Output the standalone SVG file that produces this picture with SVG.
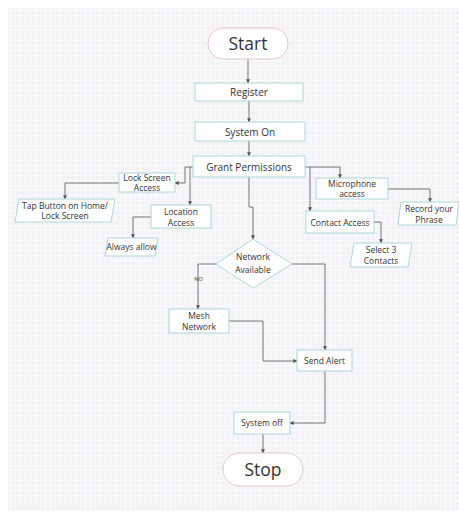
<svg xmlns="http://www.w3.org/2000/svg" width="459" height="511" viewBox="0 0 459 511">
<defs>
<pattern id="grid" width="5" height="5" patternUnits="userSpaceOnUse">
<rect width="5" height="5" fill="#f3f3f5"/>
<path d="M0 0.5H5M0.5 0V5" stroke="#fafafb" stroke-width="1"/>
</pattern>
<marker id="ah" viewBox="0 0 6 6" refX="5.5" refY="3" markerWidth="4" markerHeight="4" markerUnits="userSpaceOnUse" orient="auto">
<path d="M0 0L6 3L0 6z" fill="#555"/>
</marker>
<style>
.box{fill:#ffffff;stroke:#acd8d8;stroke-width:1}
.pill{fill:#ffffff;stroke:#e8c6c6;stroke-width:1}
.t{font-family:"Open Sans","Noto Sans","DejaVu Sans",sans-serif;fill:#333;text-anchor:middle}
.s{font-size:8.5px}
.m{font-size:10px}
.b{font-size:17.5px}
.c{fill:none;stroke:#666;stroke-width:0.9;marker-end:url(#ah)}
</style>
</defs>
<rect x="0" y="0" width="459" height="511" fill="#ffffff"/>
<rect x="8" y="8" width="451" height="503" fill="url(#grid)"/>

<g id="connectors">
<path class="c" d="M248 59V83"/>
<path class="c" d="M249 101V122"/>
<path class="c" d="M249 141V156"/>
<path class="c" d="M193 167H185V183H175"/>
<path class="c" d="M190 167V205"/>
<path class="c" d="M305 167H340V178"/>
<path class="c" d="M310 167V211"/>
<path class="c" d="M249 177V207H253V239"/>
<path class="c" d="M119 183H65V199"/>
<path class="c" d="M151 217H133V238"/>
<path class="c" d="M388 189H430V202"/>
<path class="c" d="M374 222H381V243"/>
<path class="c" d="M216 264H198V309"/>
<path class="c" d="M292 264H325V350"/>
<path class="c" d="M229 321H263V361H297"/>
<path class="c" d="M325 371V423H290"/>
<path class="c" d="M263 434V453"/>
</g>

<g id="start"><rect class="pill" x="208" y="28" width="80" height="31" rx="15.5"/><text class="t b" x="248" y="50">Start</text></g>
<g id="register"><rect class="box" x="195" y="83" width="108" height="18"/><text class="t m" x="249" y="96">Register</text></g>
<g id="system-on"><rect class="box" x="195" y="122" width="110" height="19"/><text class="t m" x="250" y="135.5">System On</text></g>
<g id="grant"><rect class="box" x="193" y="156" width="112" height="21"/><text class="t m" x="249" y="170.5" style="font-weight:500">Grant Permissions</text></g>
<g id="lock-screen"><rect class="box" x="119" y="173" width="56" height="19"/><text class="t s" x="147" y="181">Lock Screen</text><text class="t s" x="147" y="191">Access</text></g>
<g id="tap-button"><polygon class="box" points="19,199 115,199 111,222 15,222"/><text class="t s" x="65" y="208.5">Tap Button on Home/</text><text class="t s" x="65" y="219">Lock Screen</text></g>
<g id="location"><rect class="box" x="151" y="205" width="60" height="23"/><text class="t s" x="181" y="214.5">Location</text><text class="t s" x="181" y="225.5">Access</text></g>
<g id="always-allow"><polygon class="box" points="108,238 158,238 155,256 105,256"/><text class="t s" x="131.5" y="250">Always allow</text></g>
<g id="microphone"><rect class="box" x="316" y="178" width="72" height="21"/><text class="t s" x="352" y="186.5">Microphone</text><text class="t s" x="352" y="197">access</text></g>
<g id="record"><polygon class="box" points="401,202 459,202 456,225 398,225"/><text class="t s" x="429" y="212">Record your</text><text class="t s" x="429" y="223">Phrase</text></g>
<g id="contact"><rect class="box" x="306" y="211" width="68" height="22"/><text class="t s" x="340" y="225.5">Contact Access</text></g>
<g id="select3"><polygon class="box" points="354,243 412,243 408,267 350,267"/><text class="t s" x="381" y="253">Select 3</text><text class="t s" x="381" y="264">Contacts</text></g>
<g id="network"><polygon class="box" points="253,239 292,264 253,288 216,264"/><text class="t s" x="253" y="260">Network</text><text class="t s" x="253" y="272.5">Available</text></g>
<g id="no-label"><text class="t" x="198.5" y="281" style="font-size:5.5px">NO</text></g>
<g id="mesh"><rect class="box" x="169" y="309" width="60" height="24"/><text class="t s" x="199" y="319">Mesh</text><text class="t s" x="199" y="330">Network</text></g>
<g id="send-alert"><rect class="box" x="297" y="350" width="55" height="21"/><text class="t s" x="324.5" y="364">Send Alert</text></g>
<g id="system-off"><rect class="box" x="234" y="412" width="56" height="22"/><text class="t s" x="262" y="426">System off</text></g>
<g id="stop"><rect class="pill" x="223" y="453" width="80" height="33" rx="16.5"/><text class="t b" x="263" y="476">Stop</text></g>
</svg>
